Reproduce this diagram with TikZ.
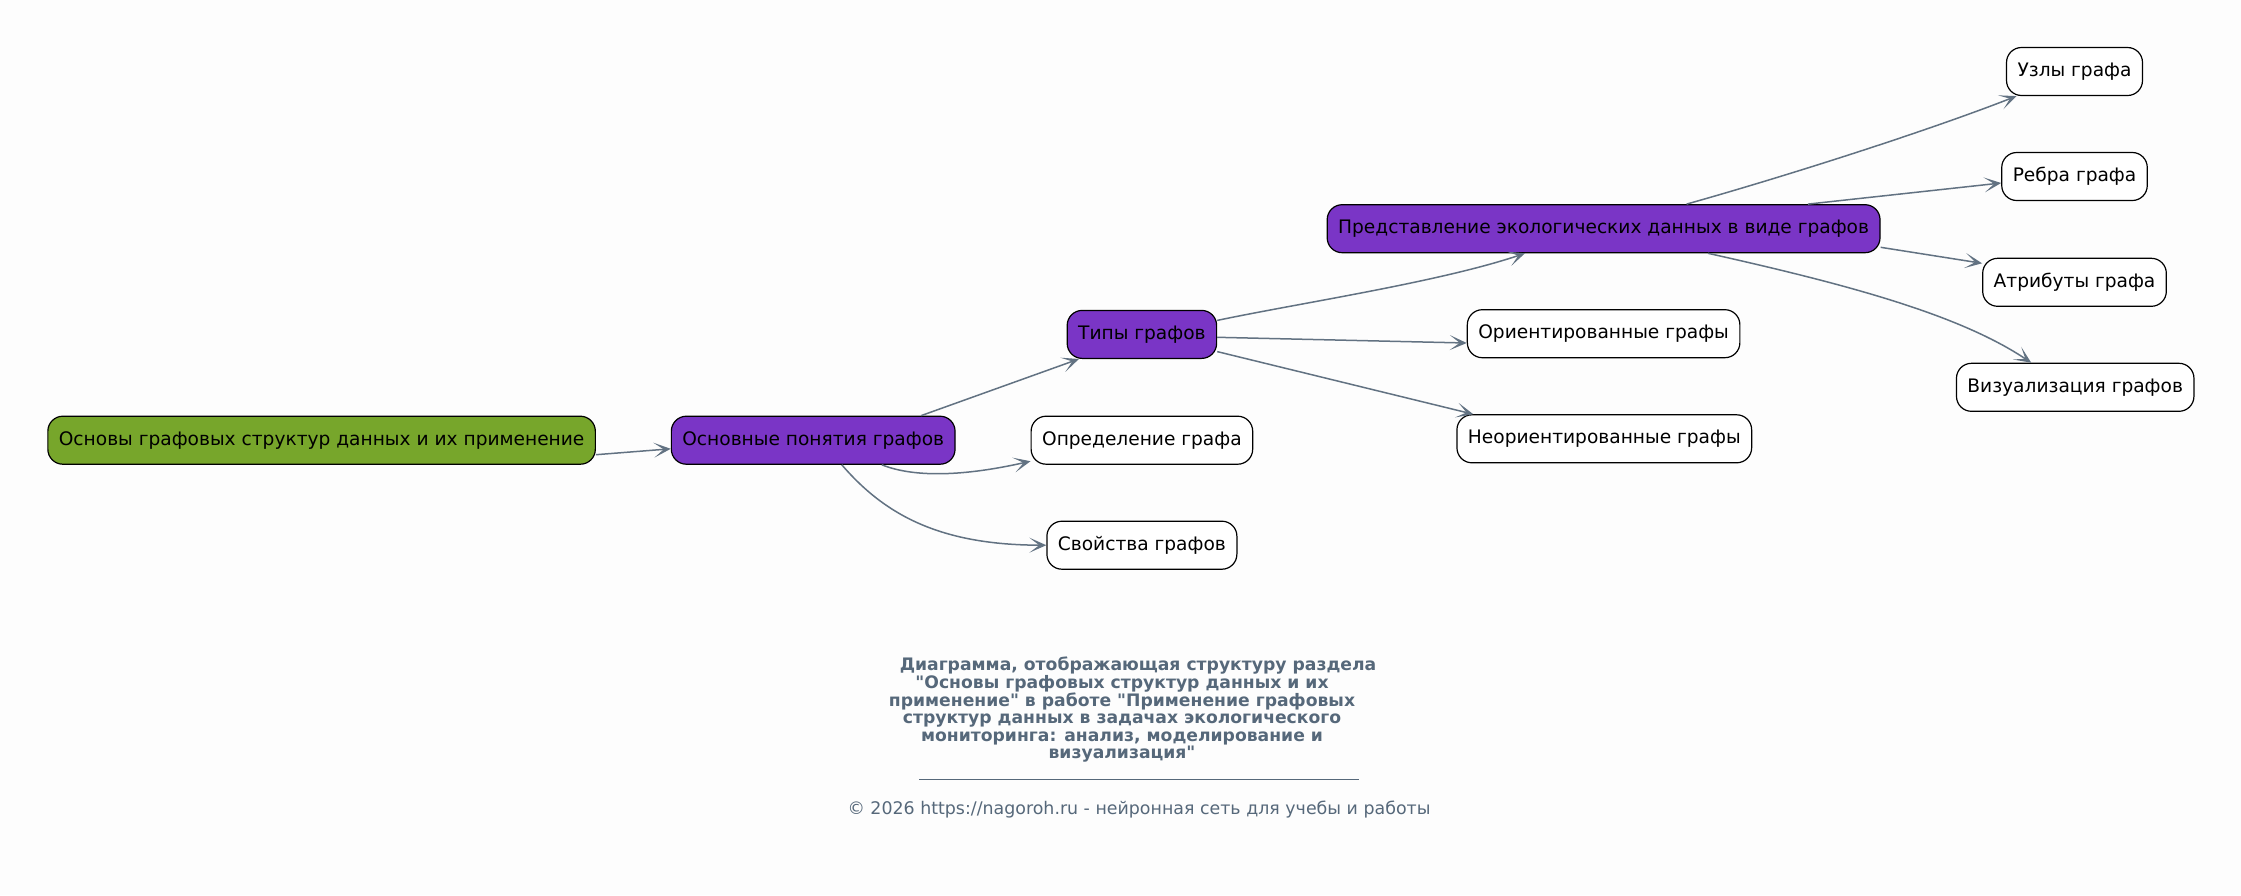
\documentclass[tikz,border=0pt]{standalone}
\usepackage{fontspec}
\setmainfont{DejaVu Sans}[Ligatures=TeXOff]
\usetikzlibrary{arrows.meta}
\definecolor{bgc}{HTML}{FDFDFD}
\definecolor{edgec}{HTML}{627282}
\definecolor{capc}{HTML}{56687A}
\definecolor{rootc}{HTML}{77A62B}
\definecolor{purp}{HTML}{7A35C6}
\tikzset{
  box/.style={draw=black, line width=1.2pt, rounded corners=15pt, minimum height=48pt,
    inner xsep=11pt, inner ysep=0pt, font=\fontsize{18.6}{22}\selectfont, text=black, fill=white},
  rootbox/.style={box, fill=rootc},
  midbox/.style={box, fill=purp},
  conn/.style={draw=edgec, line width=1.5pt, -{Stealth[length=17pt,width=15pt,inset=10pt]}},
}
\begin{document}
\begin{tikzpicture}[x=1pt,y=-1pt]
\fill[bgc] (0,0) rectangle (2241,895);
\useasboundingbox (0,0) rectangle (2241,895);

\node[rootbox] (root) at (321.6,440.2) {Основы графовых структур данных и их применение};
\node[midbox] (n1) at (813.2,440.2) {Основные понятия графов};
\node[box] (def) at (1141.9,440.2) {Определение графа};
\node[box] (prop) at (1141.9,545.2) {Свойства графов};
\node[midbox] (types) at (1141.9,334.4) {Типы графов};
\node[box] (orient) at (1603.6,333.7) {Ориентированные графы};
\node[box] (neor) at (1604.3,438.8) {Неориентированные графы};
\node[midbox] (pred) at (1603.6,228.7) {Представление экологических данных в виде графов};
\node[box] (uzly) at (2074.5,71.5) {Узлы графа};
\node[box] (rebra) at (2074.5,176.5) {Ребра графа};
\node[box] (atr) at (2074.5,282.3) {Атрибуты графа};
\node[box] (viz) at (2075.2,387.3) {Визуализация графов};

\draw[conn] ([yshift=-14.5pt]root.east) -- ([yshift=-8.6pt]n1.west);
\draw[conn] ([xshift=108pt]n1.north) -- ([xshift=-63pt]types.south);
\draw[conn] ([xshift=68.6pt]n1.south) .. controls (915,478) and (965,476) .. ([yshift=-21pt]def.west);
\draw[conn] ([xshift=28.6pt]n1.south) .. controls (885,515) and (940,545) .. (prop.west);
\draw[conn] ([yshift=14pt]types.east) .. controls (1300,303) and (1440,282) .. ([xshift=-78.6pt]pred.south);
\draw[conn] ([yshift=-2.9pt]types.east) -- ([yshift=-9.3pt]orient.west);
\draw[conn] ([yshift=-17.2pt]types.east) -- ([xshift=-131pt]neor.north);
\draw[conn] ([xshift=83pt]pred.north) .. controls (1790,175) and (1930,130) .. ([xshift=-58pt]uzly.south);
\draw[conn] ([xshift=204.4pt]pred.north) -- ([yshift=-6.5pt]rebra.west);
\draw[conn] ([yshift=-18.6pt]pred.east) -- ([yshift=19pt]atr.west);
\draw[conn] ([xshift=104.4pt]pred.south) .. controls (1850,285) and (1960,315) .. ([xshift=-44pt]viz.north);

\node[text=capc, font=\fontsize{17.2}{17.6}\bfseries, align=center, inner sep=0pt, anchor=north] (cap) at (1122,657)
  {\hspace*{32pt}Диаграмма, отображающая структуру раздела\\
   "Основы графовых структур данных и их\\
   применение" в работе "Применение графовых\\
   структур данных в задачах экологического\\
   мониторинга: анализ, моделирование и\\
   визуализация"};
\coordinate (sepl) at (919,779);
\coordinate (sepr) at (1359,779);
\draw[capc, line width=0.8pt] (sepl) -- (sepr);
\node[text=capc, font=\fontsize{17.4}{19}\selectfont, inner sep=0pt] (copy) at (1139,810)
  {© 2026 https://nagoroh.ru - нейронная сеть для учебы и работы};
\end{tikzpicture}
\end{document}
